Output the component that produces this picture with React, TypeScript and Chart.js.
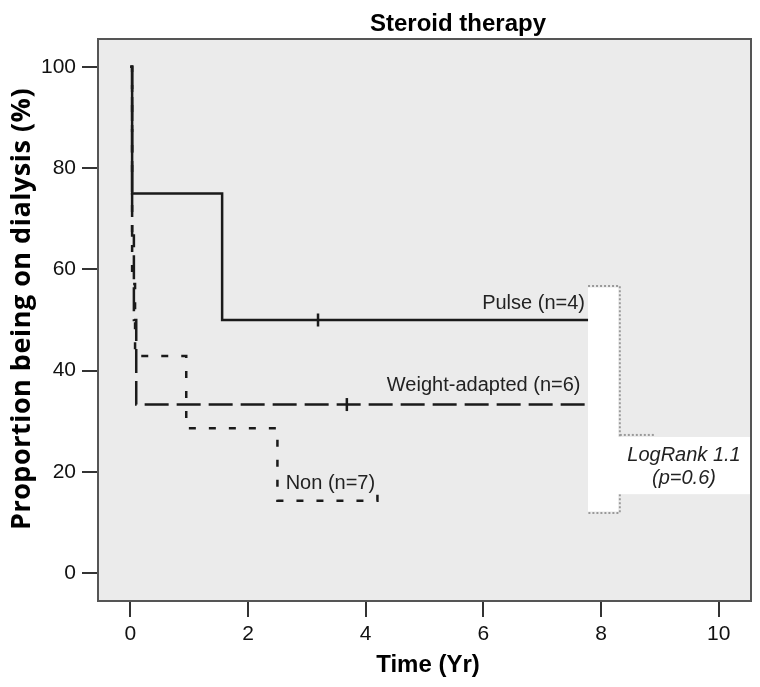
import React, { useEffect, useRef } from "react";
import { Chart, registerables } from "chart.js";

Chart.register(...registerables);

// ---- data ----
const xTicks = [0, 2, 4, 6, 8, 10];
const yTicks = [0, 20, 40, 60, 80, 100];

const pulseTimes = [0, 0.03, 0.03, 1.56, 1.56, 8.0];
const pulseSurv = [100, 100, 75, 75, 50, 50];
const pulseCensorTimes = [3.19];
const pulseCensorSurv = [50];

const weightTimes = [0, 0.03, 0.03, 0.06, 0.06, 0.1, 0.1, 8.0];
const weightSurv = [100, 100, 66.7, 66.7, 50, 50, 33.3, 33.3];
const weightCensorTimes = [3.68];
const weightCensorSurv = [33.3];

const nonTimes = [0, 0.03, 0.03, 0.08, 0.08, 0.95, 0.95, 2.5, 2.5, 4.2, 4.2];
const nonSurv = [100, 100, 57.1, 57.1, 42.9, 42.9, 28.6, 28.6, 14.3, 14.3, 15.7];

const refTimesA = [7.78, 8.32, 8.32, 7.78];
const refSurvA = [56.7, 56.7, 11.9, 11.9];
const refTimesB = [8.32, 8.92];
const refSurvB = [27.3, 27.3];

const seriesLabels = ["Pulse (n=4)", "Weight-adapted (n=6)", "Non (n=7)"];
const labelTimes = [5.98, 4.36, 2.64];
const labelSurv = [53.3, 37.0, 17.8];

const statLines = ["LogRank 1.1", "(p=0.6)"];

const toPts = (xs: number[], ys: number[]) => xs.map((x, i) => ({ x, y: ys[i] }));

const decor = {
  id: "decor",
  beforeDraw(chart: any) {
    const { ctx, chartArea: a } = chart;
    ctx.save();
    ctx.fillStyle = "#ebebeb";
    ctx.fillRect(a.left, a.top, a.right - a.left, a.bottom - a.top);
    ctx.restore();
  },
  afterDatasetsDraw(chart: any) {
    const { ctx, chartArea: a } = chart;
    const xs = chart.scales.x;
    const ys = chart.scales.y;
    const px = (v: number) => xs.getPixelForValue(v);
    const py = (v: number) => ys.getPixelForValue(v);
    ctx.save();
    ctx.fillStyle = "#ffffff";
    const sx0 = px(7.78);
    const sx1 = px(8.32) - 1.5;
    const sy0 = py(56.7) + 1.5;
    const sy1 = py(11.9) - 1.5;
    ctx.fillRect(sx0, sy0, sx1 - sx0, sy1 - sy0);
    const by0 = py(26.9);
    const by1 = py(15.6);
    ctx.fillRect(sx0, by0, a.right - 1 - sx0, by1 - by0);

    ctx.fillStyle = "#222";
    ctx.font = "20px 'Liberation Sans', Arial, sans-serif";
    ctx.textAlign = "left";
    ctx.textBaseline = "middle";
    seriesLabels.forEach((t, i) => {
      ctx.fillText(t, px(labelTimes[i]), py(labelSurv[i]));
    });
    ctx.font = "italic 20px 'Liberation Sans', Arial, sans-serif";
    ctx.textAlign = "center";
    const cx = 684;
    ctx.fillText(statLines[0], cx, 455);
    ctx.fillText(statLines[1], cx, 478);
    ctx.restore();
  },
  afterDraw(chart: any) {
    const { ctx, chartArea: a } = chart;
    ctx.save();
    ctx.strokeStyle = "#555";
    ctx.lineWidth = 2;
    ctx.strokeRect(a.left, a.top, a.right - a.left, a.bottom - a.top);

    ctx.fillStyle = "#000";
    ctx.textAlign = "center";
    ctx.textBaseline = "middle";
    ctx.font = "bold 24px 'Liberation Sans', Arial, sans-serif";
    ctx.fillText("Steroid therapy", 458, 24);

    ctx.font = "bold 24px 'Liberation Sans', Arial, sans-serif";
    ctx.fillText("Time (Yr)", 428, 665);

    ctx.translate(22, 309);
    ctx.rotate(-Math.PI / 2);
    ctx.font = "bold 27px 'Open Sans', 'Liberation Sans', sans-serif";
    try { (ctx as any).letterSpacing = "0.5px"; } catch (e) {}
    ctx.fillText("Proportion being on dialysis (%)", 0, 0);
    ctx.restore();
  },
};

export default function App() {
  const ref = useRef<HTMLCanvasElement>(null);
  useEffect(() => {
    document.body.style.margin = "0";
    const lineBase = { showLine: true, pointRadius: 0, fill: false, tension: 0 };
    const chart = new Chart(ref.current!, {
      type: "scatter",
      data: {
        datasets: [
          { ...lineBase, data: toPts(refTimesA, refSurvA), borderColor: "#9a9a9a", borderWidth: 2, borderDash: [2, 2] },
          { ...lineBase, data: toPts(refTimesB, refSurvB), borderColor: "#9a9a9a", borderWidth: 2, borderDash: [2, 2] },
          { ...lineBase, data: toPts(pulseTimes, pulseSurv), borderColor: "#1a1a1a", borderWidth: 2.5 },
          { ...lineBase, data: toPts(weightTimes, weightSurv), borderColor: "#1a1a1a", borderWidth: 2.5, borderDash: [24, 8] },
          { ...lineBase, data: toPts(nonTimes, nonSurv), borderColor: "#1a1a1a", borderWidth: 2.5, borderDash: [7, 13] },
          {
            data: toPts(pulseCensorTimes, pulseCensorSurv),
            showLine: false, pointStyle: "line", rotation: 90, pointRadius: 6.5,
            borderColor: "#1a1a1a", borderWidth: 2.5,
          },
          {
            data: toPts(weightCensorTimes, weightCensorSurv),
            showLine: false, pointStyle: "line", rotation: 90, pointRadius: 6.5,
            borderColor: "#1a1a1a", borderWidth: 2.5,
          },
        ],
      },
      options: {
        animation: false,
        responsive: false,
        events: [],
        layout: { padding: { top: 39, right: 8, left: 0, bottom: 0 } },
        plugins: { legend: { display: false }, tooltip: { enabled: false }, title: { display: false } },
        scales: {
          x: {
            type: "linear",
            min: -0.55,
            max: 10.55,
            afterBuildTicks: (s: any) => { s.ticks = xTicks.map((v) => ({ value: v })); },
            afterFit: (s: any) => { s.height = 86; },
            border: { display: false },
            grid: { drawOnChartArea: false, drawTicks: true, tickLength: 16, color: "#333", lineWidth: 2 },
            ticks: { color: "#111", padding: 5, font: { family: "'Liberation Sans', Arial, sans-serif", size: 21 } },
          },
          y: {
            type: "linear",
            min: -5.5,
            max: 105.5,
            afterBuildTicks: (s: any) => { s.ticks = yTicks.map((v) => ({ value: v })); },
            afterFit: (s: any) => { s.width = 98; },
            border: { display: false },
            grid: { drawOnChartArea: false, drawTicks: true, tickLength: 16, color: "#333", lineWidth: 2 },
            ticks: { color: "#111", padding: 6, font: { family: "'Liberation Sans', Arial, sans-serif", size: 21 } },
          },
        },
      },
      plugins: [decor],
    });
    return () => chart.destroy();
  }, []);
  return <canvas ref={ref} width={760} height={687} style={{ display: "block" }} />;
}
